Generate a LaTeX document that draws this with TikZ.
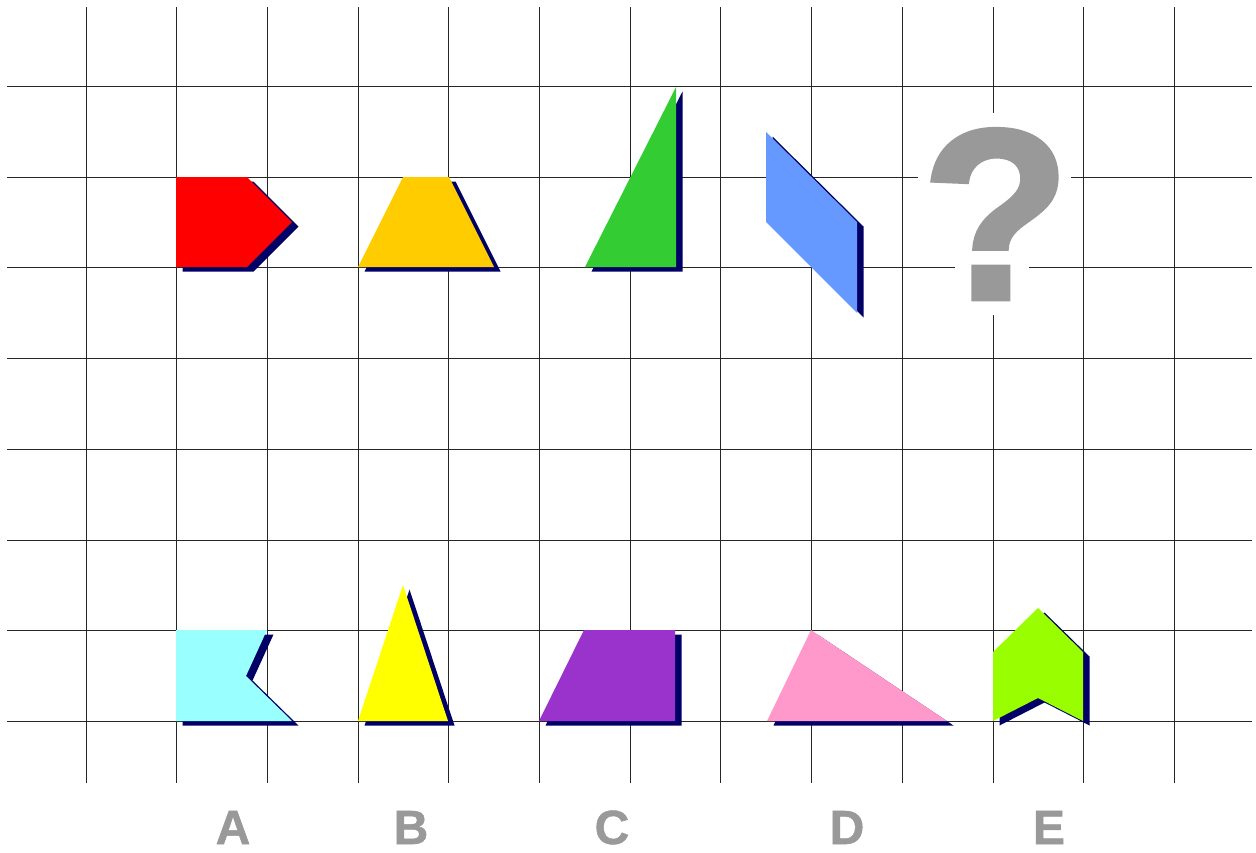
\documentclass[tikz,border=0pt]{standalone}
\usepackage{fontspec}
\setmainfont{Liberation Sans}
\newfontfamily\heavyfont[FakeBold=2]{Liberation Sans Bold}
\newfontfamily\labfont[FakeBold=1]{Liberation Sans Bold}
\definecolor{shadowc}{HTML}{000066}
\definecolor{redc}{HTML}{FF0000}
\definecolor{goldc}{HTML}{FFCC00}
\definecolor{greenc}{HTML}{33CC33}
\definecolor{bluec}{HTML}{6699FF}
\definecolor{cyanc}{HTML}{99FFFF}
\definecolor{yellowc}{HTML}{FFFF00}
\definecolor{purplec}{HTML}{9933CC}
\definecolor{pinkc}{HTML}{FF99CC}
\definecolor{limec}{HTML}{99FF00}
\definecolor{labgray}{HTML}{999999}
\newcommand\dropshape[2]{%
  \fill[shadowc,shift={(6.5,4.5)}] #2 -- cycle;
  \fill[#1] #2 -- cycle;}
\tikzset{
  gridline/.style={draw=black!85,line width=1.1pt},
  letterlab/.style={anchor=base,inner sep=0pt,text depth=0pt,text height=36pt,text=labgray,font=\labfont\fontsize{48}{48}\selectfont},
  qmark/.style={anchor=base,inner sep=0pt,text depth=0pt,text=labgray,font=\heavyfont\fontsize{243}{243}\selectfont}
}
\begin{document}
\begin{tikzpicture}[x=1pt,y=-1pt]
\useasboundingbox (0,0) rectangle (1256,852);
% grid
\foreach \xx in {86,176,267,358,448,539,630,720,811,902,993,1083,1174} {
  \draw[gridline] (\xx+0.5,7) -- (\xx+0.5,783);
}
\foreach \yy in {86,177,267,358,449,540,630,721} {
  \draw[gridline] (7,\yy+0.5) -- (1252,\yy+0.5);
}
% white gaps around the question mark
\fill[white] (986,113) rectangle (1000,315);
\fill[white] (918,171) rectangle (1071,183);
\fill[white] (955,261) rectangle (1029,273);
% upper row
\dropshape{redc}{(176,177) -- (247,177) -- (292,222) -- (247,267) -- (176,267)}
\dropshape{goldc}{(358,267) -- (403,177) -- (449,177) -- (494,267)}
\dropshape{greenc}{(585,267) -- (676,87) -- (676,267)}
\dropshape{bluec}{(766,132) -- (857,222) -- (857,313) -- (766,222)}
\node[qmark] (q) at (996,299) {?};
% lower row
\dropshape{cyanc}{(176,630) -- (267,630) -- (246,676) -- (292,721) -- (176,721)}
\dropshape{yellowc}{(403,585) -- (448,721) -- (358,721)}
\dropshape{purplec}{(539,721) -- (584,630) -- (675,630) -- (675,721)}
\dropshape{pinkc}{(811,630) -- (947,721) -- (767,721)}
\dropshape{limec}{(1038,608) -- (1083,652) -- (1083,721) -- (1038,698) -- (993,721) -- (993,652)}
% labels
\node[letterlab] (la) at (233,844) {A};
\node[letterlab] (lb) at (411,844) {B};
\node[letterlab] (lc) at (612,844) {C};
\node[letterlab] (ld) at (847,844) {D};
\node[letterlab] (le) at (1049,844) {E};
\end{tikzpicture}
\end{document}
